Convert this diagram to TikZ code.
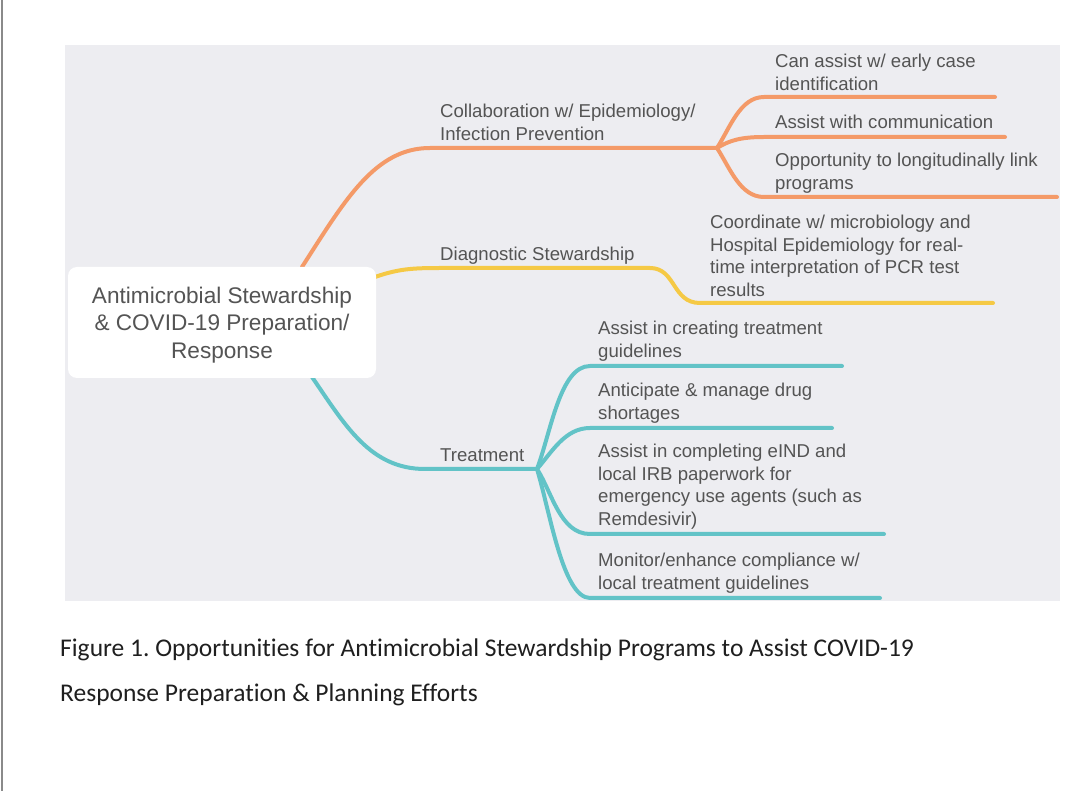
\documentclass[tikz,border=0pt]{standalone}
\usepackage{fontspec}
\setmainfont{Liberation Sans}
\newfontfamily\captionfont[Ligatures=NoCommon]{Carlito}
\definecolor{mapbg}{HTML}{EDEDF1}
\definecolor{pagerule}{HTML}{8A8A8A}
\definecolor{inktext}{HTML}{545454}
\definecolor{orangebranch}{HTML}{F49A68}
\definecolor{yellowbranch}{HTML}{F5C945}
\definecolor{tealbranch}{HTML}{62C3C7}
\frenchspacing
\tikzset{
  branch/.style={line width=4pt, line cap=round},
  leaf/.style={anchor=south west, inner sep=0pt, text depth=0pt, align=left,
    text=inktext, font=\fontsize{18.6}{22.8}\selectfont},
  rootbox/.style={fill=white, rounded corners=9pt, minimum width=308pt,
    minimum height=111pt, align=center, text=inktext, text depth=0pt,
    font=\fontsize{22.6}{27.5}\selectfont},
  figcaption/.style={anchor=base west, inner sep=0pt, text=black!88,
    font=\captionfont\fontsize{25.5}{30}\selectfont},
}
\begin{document}
\begin{tikzpicture}[x=1pt, y=-1pt]
    \useasboundingbox (0,0) rectangle (1080,791);
    % Page and map background
    \fill[white] (0,0) rectangle (1080,791);
    \draw[pagerule, line width=2pt] (2,0) -- (2,791);
    \fill[mapbg] (65,45) rectangle (1060,601);

    % Anchor points
    \coordinate (rootN) at (302,267);
    \coordinate (rootE) at (375,277);
    \coordinate (rootS) at (312,377);
    \coordinate (collabfork) at (717,148);
    \coordinate (diagbend) at (650,268);
    \coordinate (treatfork) at (537,469);

    % Collaboration branch (orange)
    \draw[branch, orangebranch] (rootN) .. controls (345,200) and (375,148) .. (430,148) -- (collabfork);
    \draw[branch, orangebranch] (collabfork) .. controls (730,128) and (740,97) .. (764,97) -- (995,97) coordinate (endA);
    \draw[branch, orangebranch] (collabfork) .. controls (730,140) and (742,137) .. (764,137) -- (1005,137) coordinate (endB);
    \draw[branch, orangebranch] (collabfork) .. controls (730,168) and (740,197) .. (764,197) -- (1057,197) coordinate (endC);

    % Diagnostic branch (yellow)
    \draw[branch, yellowbranch] (rootE) .. controls (398,269) and (412,268) .. (440,268) -- (diagbend)
      .. controls (676,268) and (672,303) .. (700,303) -- (993,303) coordinate (endD);

    % Treatment branch (teal)
    \draw[branch, tealbranch] (rootS) .. controls (345,425) and (370,469) .. (425,469) -- (treatfork);
    \draw[branch, tealbranch] (treatfork) .. controls (551,432) and (560,366) .. (590,366) -- (842,366) coordinate (endE);
    \draw[branch, tealbranch] (treatfork) .. controls (552,452) and (565,428) .. (590,428) -- (832,428) coordinate (endF);
    \draw[branch, tealbranch] (treatfork) .. controls (552,492) and (560,534) .. (590,534) -- (884,534) coordinate (endG);
    \draw[branch, tealbranch] (treatfork) .. controls (550,512) and (563,598) .. (590,598) -- (880,598) coordinate (endH);

    % Central topic
    \node[rootbox] (root) at (222,322.5) {Antimicrobial Stewardship\\\& COVID-19 Preparation/\\Response};

    % Branch labels
    \node[leaf] (collab) at (440,141) {Collaboration w/ Epidemiology/\\Infection Prevention};
    \node[leaf] (diag) at (440,261) {Diagnostic Stewardship};
    \node[leaf] (treat) at (440,462) {Treatment};

    % Leaf labels
    \node[leaf] (caseid) at (775,91) {Can assist w/ early case\\identification};
    \node[leaf] (comm) at (775,129) {Assist with communication};
    \node[leaf] (link) at (775,190) {Opportunity to longitudinally link\\programs};
    \node[leaf] (pcr) at (710,297) {Coordinate w/ microbiology and\\Hospital Epidemiology for real-\\time interpretation of PCR test\\results};
    \node[leaf] (guide) at (598,358) {Assist in creating treatment\\guidelines};
    \node[leaf] (short) at (598,420) {Anticipate \& manage drug\\shortages};
    \node[leaf] (eind) at (598,526) {Assist in completing eIND and\\local IRB paperwork for\\emergency use agents (such as\\Remdesivir)};
    \node[leaf] (comply) at (598,590) {Monitor/enhance compliance w/\\local treatment guidelines};

    % Caption
    \node[figcaption] (cap1) at (60,656)
      {Figure 1. Opportunities for Antimicrobial Stewardship Programs to Assist COVID-19};
    \node[figcaption] (cap2) at (60,701)
      {Response Preparation \& Planning Efforts};
\end{tikzpicture}
\end{document}
